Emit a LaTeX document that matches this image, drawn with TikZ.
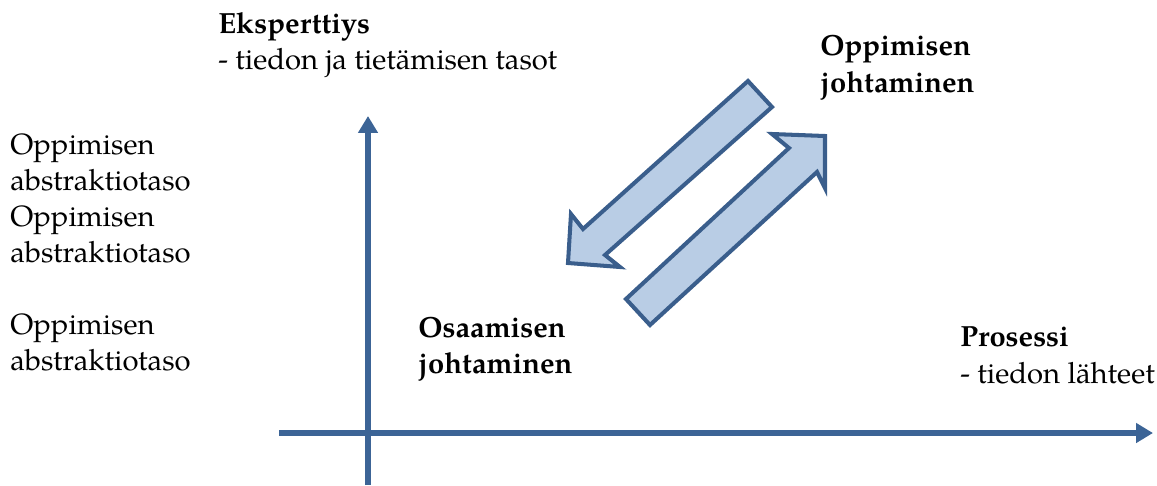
\documentclass[tikz,border=0pt]{standalone}
\usepackage{fontspec}
\setmainfont{TeX Gyre Pagella}
\usetikzlibrary{arrows.meta}
\definecolor{axisblue}{HTML}{3C6496}
\definecolor{arrowfill}{HTML}{B9CDE5}
\definecolor{arrowline}{HTML}{3A5E8C}
\tikzset{
  axisline/.style={draw=axisblue, line width=3.4pt, -{Triangle[length=9.6pt,width=10.8pt]}},
  blockarrow/.style={draw=arrowline, fill=arrowfill, line width=2.3pt, line join=miter},
  lbl/.style={anchor=base west, inner sep=0pt, font=\fontsize{16.65}{20}\selectfont},
  blbl/.style={lbl, font=\fontsize{16.6}{20}\selectfont\bfseries}
}
\begin{document}
\begin{tikzpicture}[x=0.02cm,y=-0.02cm]
\useasboundingbox (0,0) rectangle (1157,485);
% axes
\coordinate (vb) at (368,485);
\coordinate (vt) at (368,116);
\coordinate (hl) at (279,433);
\coordinate (hr) at (1153,433);
\draw[axisline] (vb) -- (vt);
\draw[axisline] (hl) -- (hr);
% block arrow down-left
\draw[blockarrow] (748,81) -- (772,107) -- (605,255) -- (620,267) -- (568,263) -- (571,214) -- (583,229) -- cycle;
% block arrow up-right
\draw[blockarrow] (650,325) -- (817,172) -- (825,188) -- (825,136) -- (772,134) -- (789,148) -- (626,299) -- cycle;
% texts
\node[blbl] (eks) at (218,33) {Eksperttiys};
\node[lbl] (eks2) at (218,69) {- tiedon ja tietämisen tasot};
\node[lbl] (l1) at (10,154) {Oppimisen};
\node[lbl] (l2) at (10,190) {abstraktiotaso};
\node[lbl] (l3) at (10,226) {Oppimisen};
\node[lbl] (l4) at (10,262) {abstraktiotaso};
\node[lbl] (l5) at (10,334) {Oppimisen};
\node[lbl] (l6) at (10,370) {abstraktiotaso};
\node[blbl] (opp1) at (820,55) {Oppimisen};
\node[blbl] (opp2) at (820,92) {johtaminen};
\node[blbl] (osa1) at (418,337) {Osaamisen};
\node[blbl] (osa2) at (418,373) {johtaminen};
\node[blbl] (pro1) at (960,346) {Prosessi};
\node[lbl] (pro2) at (960,383) {- tiedon lähteet};
\end{tikzpicture}
\end{document}
